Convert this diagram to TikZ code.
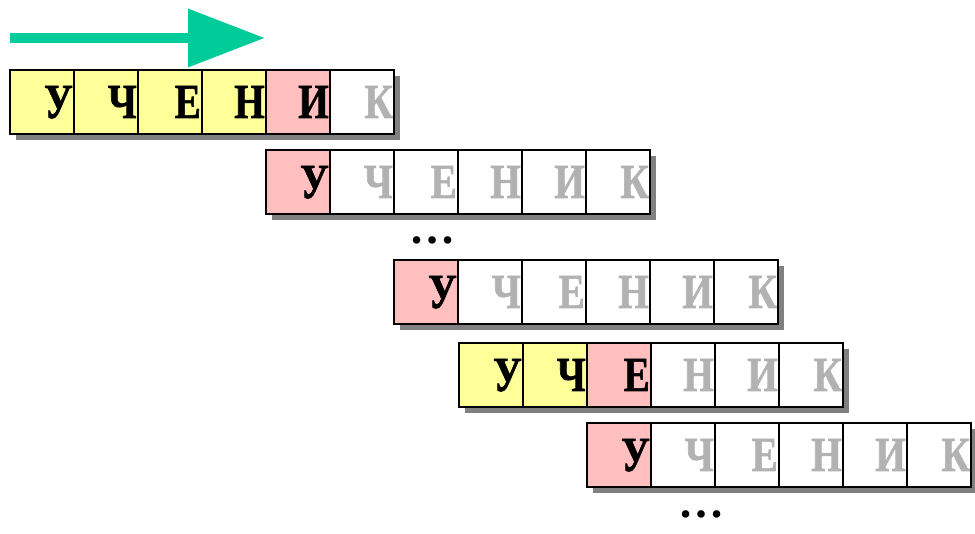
\documentclass[tikz,border=0pt]{standalone}
\usepackage{fontspec}
\setmainfont{Liberation Serif}
\newfontfamily\letfont[FakeStretch=0.8,FakeBold=1.2]{Liberation Serif Bold}
\usetikzlibrary{arrows.meta}
\definecolor{cyel}{HTML}{FFFF99}
\definecolor{cpink}{HTML}{FFBFBF}
\definecolor{cgrey}{HTML}{B2B2B2}
\definecolor{cshadow}{HTML}{808080}
\definecolor{cgreen}{HTML}{00CC99}
\tikzset{
  cell/.style={draw=black, line width=2.5pt, minimum width=64pt, minimum height=64pt,
    inner sep=0pt, outer sep=0pt, anchor=north west},
  lett/.style={font=\letfont\fontsize{49}{49}\selectfont, inner sep=0pt, anchor=base east},
  dots/.style={font=\fontsize{46}{46}\selectfont\bfseries, inner sep=0pt, anchor=base},
  shadowbox/.style={fill=cshadow},
  dirarrow/.style={line width=10pt, draw=cgreen, -{Triangle[length=77pt,width=56pt]}}
}
\newcommand\wordrow[4]{%
  \fill[shadowbox] (#2+6,#3+6) rectangle ++(384,64);
  \foreach[count=\i from 0] \f/\t/\l in {#4} {
    \node[cell, fill=\f] (#1c\i) at (#2+64*\i,#3) {};
  }
  \foreach[count=\i from 0] \f/\t/\l in {#4} {
    \node[lett, text=\t] (#1l\i) at ([xshift=-1pt,yshift=16pt]#1c\i.south east) {\l};
  }
}
\begin{document}
\begin{tikzpicture}[x=1pt,y=-1pt]
\useasboundingbox (0,0) rectangle (975,534);
\coordinate (as) at (10,38);
\coordinate (ae) at (265,38);
\draw[dirarrow] (as) -- (ae);
\wordrow{a}{10}{70}{cyel/black/У,cyel/black/Ч,cyel/black/Е,cyel/black/Н,cpink/black/И,white/cgrey/К}
\wordrow{b}{266}{150}{cpink/black/У,white/cgrey/Ч,white/cgrey/Е,white/cgrey/Н,white/cgrey/И,white/cgrey/К}
\node[dots] (d1) at (432,244) {…};
\wordrow{c}{394}{260}{cpink/black/У,white/cgrey/Ч,white/cgrey/Е,white/cgrey/Н,white/cgrey/И,white/cgrey/К}
\wordrow{d}{459}{343}{cyel/black/У,cyel/black/Ч,cpink/black/Е,white/cgrey/Н,white/cgrey/И,white/cgrey/К}
\wordrow{e}{587}{423}{cpink/black/У,white/cgrey/Ч,white/cgrey/Е,white/cgrey/Н,white/cgrey/И,white/cgrey/К}
\node[dots] (d2) at (701,518) {…};
\end{tikzpicture}
\end{document}
